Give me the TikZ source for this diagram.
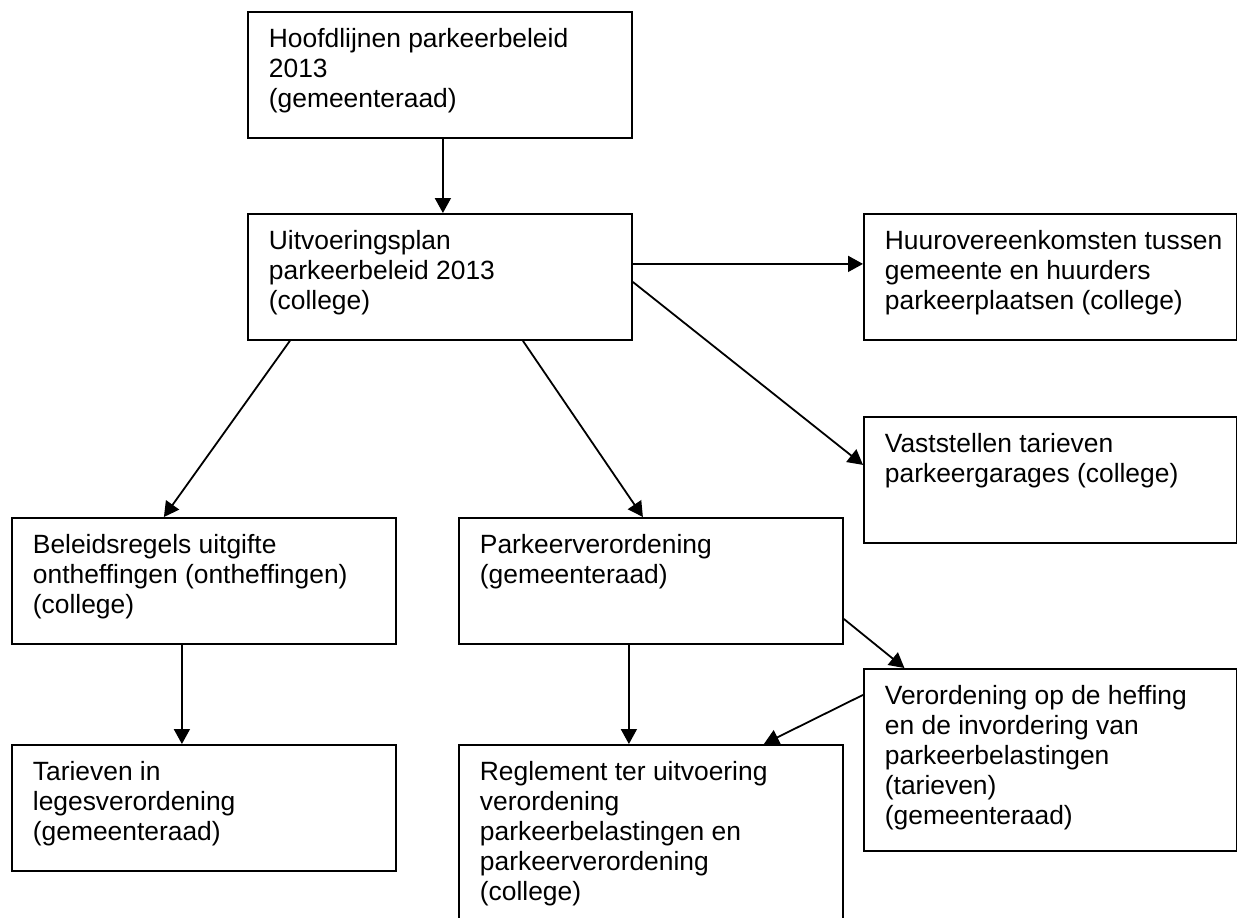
\documentclass[tikz,border=0pt]{standalone}
\usepackage{fontspec}
\setmainfont{Liberation Sans}
\usetikzlibrary{arrows.meta}
\usetikzlibrary{calc}

\newcommand{\boxtxt}[3]{\parbox[c][#2][t]{#1}{\begin{tabular}[t]{@{}l@{}}#3\end{tabular}}}

\begin{document}
\begin{tikzpicture}[x=0.5pt, y=-0.5pt, line width=0.9pt, >={Triangle[length=7.5pt,width=8pt]},
    box/.style={draw, anchor=north west, inner xsep=10.5pt, inner ysep=7.5pt, font=\fontsize{13.2}{15}\selectfont}]
        \useasboundingbox (0,0) rectangle (1237,917);
        \clip (0,0) rectangle (1237,917);
        \node[box] (hoofd) at (247,11){\boxtxt{171pt}{48pt}{Hoofdlijnen parkeerbeleid\\2013\\(gemeenteraad)}};
        \node[box] (uitv) at (247,213){\boxtxt{171pt}{48pt}{Uitvoeringsplan\\parkeerbeleid 2013\\(college)}};
        \node[box] (huur) at (863,213){\boxtxt{165.5pt}{48pt}{Huurovereenkomsten tussen\\gemeente en huurders\\parkeerplaatsen (college)}};
        \node[box] (vast) at (863,416){\boxtxt{165.5pt}{48pt}{Vaststellen tarieven\\parkeergarages (college)}};
        \node[box] (bel) at (11,517){\boxtxt{171pt}{48pt}{Beleidsregels uitgifte\\ontheffingen (ontheffingen)\\(college)}};
        \node[box] (park) at (458,517){\boxtxt{171pt}{48pt}{Parkeerverordening\\(gemeenteraad)}};
        \node[box] (verord) at (863,668){\boxtxt{165.5pt}{76pt}{Verordening op de heffing\\en de invordering van\\parkeerbelastingen\\(tarieven)\\(gemeenteraad)}};
        \node[box] (tar) at (11,744){\boxtxt{171pt}{48pt}{Tarieven in\\legesverordening\\(gemeenteraad)}};
        \node[box] (regl) at (458,744){\boxtxt{171pt}{80pt}{Reglement ter uitvoering\\verordening\\parkeerbelastingen en\\parkeerverordening\\(college)}};
        % pijlen
        \draw[->]($(hoofd.south)+(3,0)$)--($(uitv.north)+(3,0)$);
        \draw[->]($(uitv.east)+(0,-13)$)--($(huur.west)+(0,-13)$);
        \draw[->]($(uitv.east)+(0,5)$)--($(vast.west)+(0,-15)$);
        \draw[->]($(uitv.south)+(-150,0)$)--($(bel.north)+(-40,0)$);
        \draw[->]($(uitv.south)+(83,0)$)--($(park.north)+(-8,0)$);
        \draw[->]($(bel.south)+(-22,0)$)--($(tar.north)+(-22,0)$);
        \draw[->]($(park.south)+(-22,0)$)--($(regl.north)+(-22,0)$);
        \draw[->]($(park.east)+(0,38)$)--($(verord.north)+(-146,0)$);
        \draw[->]($(verord.west)+(0,-65)$)--($(regl.north)+(113,0)$);
    \end{tikzpicture}
\end{document}
